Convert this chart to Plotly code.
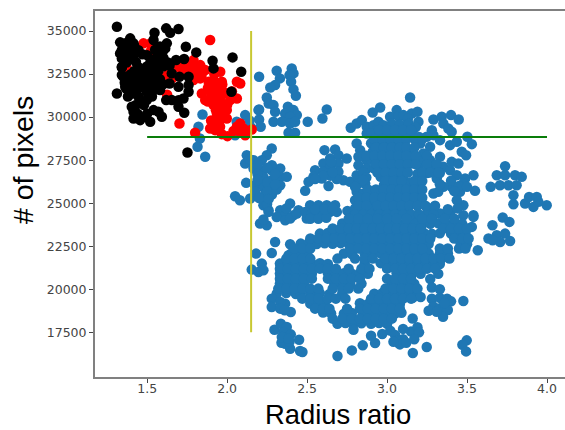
import plotly.graph_objects as go

blue_upper_left = [(2.20,32345),(2.31,32694),(2.33,32248),(2.30,31860),(2.27,31725),(2.404,32830),(2.415,32540),(2.39,32440),(2.40,32054),(2.415,31609),(2.43,31240),
(2.248,31143),(2.26,30795),(2.29,30698),(2.30,30310),(2.20,30446),(2.29,29729),(2.20,29865),(2.21,29438),(2.38,30600),(2.415,30407),(2.436,30116),(2.363,30213),(2.394,30020),(2.342,29729),(2.394,29632),(2.425,29729),(2.384,29090),(2.425,29090),(2.504,29729),(2.596,29923),(2.623,30446),(2.113,30116),(2.06,29729),(2.05,28950),(2.15,29400),(1.846,30155),(1.821,29438),(1.83,28760),(1.815,28275),(1.863,27694),(2.11,29300),(2.196,30407),(2.14,29800)]

blue_center_top = [(3.144,31143),(2.957,30562),(2.91,30271),(2.773,29380),(2.81,29632),(2.842,29826),(2.873,29438),(2.915,29535),(2.946,29729),(2.873,29050),(2.936,29244),
(3.06,30407),(3.019,30020),(3.072,30050),(3.102,30116),(3.154,30213),(3.19,30310),(3.13,29900),(3.196,29729),(2.977,29535),(3.03,29620),(3.08,29580),(3.135,29600),(3.18,29420),
(3.29,29865),(3.342,30020),(3.40,30116),(3.448,29865),(3.352,29632),(3.383,29341),(3.404,29147),(3.28,29244),(3.29,28954),(3.331,28663),(3.394,28372),(3.436,28566),(3.502,28857),(3.53,28430),(3.467,27985),(3.494,27790),(3.248,28857),(3.207,28469),(3.269,28275),(3.227,27888),(3.269,27500),(3.331,27694)]

blue_right_mid = [(3.352,27112),(3.404,27403),(3.446,27306),(3.394,26918),(3.436,26628),(3.488,26434),(3.54,26628),(3.55,25717),(3.477,26143),(3.456,25659),(3.404,25950),(3.352,25950),(3.311,26434),(3.29,25562),(3.32,25660),(3.477,24883),(3.436,25175),(3.54,24302),(3.477,24302),(3.394,24399),(3.331,24399),(3.28,24700),(3.25,26750),(3.30,26900),(3.20,27200),(3.15,27300),(3.14,28100),(3.19,26700),(3.14,26200),(3.19,26150),(3.15,25700),(3.20,25600),(3.14,25100),(3.19,24950),(3.25,24750),(3.12,24400),(3.18,24300),(3.25,24400),(3.15,27700),(3.12,28800),(3.20,28850),
(3.22,27400),(3.28,27000),(3.33,26750),(3.40,26300),(3.45,26000),(3.50,25950),(3.42,25700),(3.38,24650),(3.44,24700),(3.33,26100)]

blue_far_right = [(3.738,27151),(3.686,26628),(3.738,26628),(3.80,26628),(3.842,26531),(3.648,25950),(3.706,26047),(3.759,26047),(3.81,26047),(3.79,25465),(3.79,24942),(3.863,24980),(3.888,25368),(3.936,25368),(3.915,24786),(3.946,25078),(3.998,24883),(3.723,24167),(3.765,23915),(3.659,23721),(3.634,22946),(3.686,23140),(3.738,23236),(3.769,22810),(3.707,22752),(3.66,22850),(3.567,22267),(3.54,24205),(3.53,23624)]

blue_left_mid = [(2.279,28178),(2.248,27790),(2.123,27790),(2.113,27306),(2.165,27500),(2.217,27500),(2.165,27015),(2.217,26918),(2.279,26918),(2.332,27015),(2.227,26531),(2.279,26337),(2.332,26531),(2.373,26531),(2.119,26182),(2.175,26047),(2.227,25950),(2.279,25853),(2.332,26047),(2.238,25562),(2.28,25500),(2.05,25407),(2.08,25175),(2.144,25271),(2.175,25659),(2.227,24883),(2.259,24593),(2.332,24593),(2.394,24980),(2.446,24593),(2.363,24300),(2.31,24200),(2.415,24300),(2.25,24950),(2.37,24700),(2.206,23818),(2.248,23721),(2.227,24050),(2.363,24012),(2.394,24108),(2.436,24400),(2.498,24108),(2.259,24496),
(2.28,27200),(2.25,27050),(2.19,27250),(2.14,27550),(2.19,26700),(2.25,26200),(2.30,26700),(2.25,25700),(2.31,25800),(2.20,25300),(2.19,26350),(2.30,26100),(2.26,25250)]

blue_middle = [(2.609,28081),(2.675,28120),(2.644,27597),(2.696,27790),(2.748,27597),(2.602,27306),(2.644,27112),(2.696,27306),(2.55,26918),(2.602,26822),(2.696,26822),(2.54,26531),(2.592,26434),(2.509,26240),(2.488,25717),(2.634,26000),(2.727,26337),(2.685,26400),(2.769,26240),(2.645,26600),(2.65,27400),(2.60,26600),(2.55,26400),(2.66,26800),
(2.519,24883),(2.571,24883),(2.623,24883),(2.675,24883),(2.488,24496),(2.53,24400),(2.582,24496),(2.644,24496),(2.686,24496),(2.752,24554),(2.52,24100),(2.57,24100),(2.62,24150),(2.55,24650),(2.61,24650),(2.66,24700),
(2.81,28469),(2.832,28081),(2.821,27694),(2.873,27500),(2.821,27209),(2.873,27015),(2.81,26628),(2.863,26143),(2.82,26143),(2.81,25660),(2.852,25562),(2.90,25562),(2.957,25659),(2.80,25175),(2.852,25078),(2.80,24690),(2.852,24593),(2.915,24980),(2.977,25175),(2.85,26800),(2.87,26500),(2.85,27750),(2.85,26350),(2.80,25950)]

blue_core = [(2.90,29050),(2.95,29000),(3.00,29080),(3.05,28990),(3.10,29040),(3.16,29020),
(2.90,28480),(2.96,28500),(3.01,28440),(3.06,28490),(3.11,28470),
(2.91,27980),(2.95,28020),(3.00,27960),(3.05,28010),(3.10,27970),
(2.90,27520),(2.96,27480),(3.01,27530),(3.06,27490),(3.12,27510),
(2.92,27010),(2.97,27050),(3.02,26990),(3.07,27030),(3.11,27000),
(2.96,26530),(3.01,26570),(3.06,26510),(3.10,26550),
(2.98,26050),(3.03,26090),(3.08,26040),(3.11,26070),
(2.99,25570),(3.04,25600),(3.09,25550),
(2.93,25090),(3.02,25100),(3.07,25060),(3.11,25090),
(2.90,24600),(2.95,24620),(3.00,24580),(3.05,24610),(3.10,24590)]

blue_lower = [(2.72,23818),(2.77,23850),(2.82,23790),(2.87,23830),(2.92,23800),(2.97,23840),(3.02,23790),(3.07,23820),(3.12,23800),(3.17,23840),(3.22,23780),(3.27,23810),(3.32,23840),(3.37,23790),(3.42,23830),(3.47,23800),
(2.58,23236),(2.63,23270),(2.68,23210),(2.73,23250),(2.78,23220),(2.83,23260),(2.88,23230),(2.93,23270),(2.98,23220),(3.03,23250),(3.08,23210),(3.13,23260),(3.18,23230),(3.23,23270),(3.28,23220),(3.33,23250),(3.40,23240),(3.45,23220),(3.49,23270),
(2.46,22655),(2.51,22690),(2.56,22630),(2.61,22670),(2.66,22640),(2.71,22680),(2.76,22640),(2.81,22670),(2.86,22630),(2.91,22680),(2.96,22650),(3.01,22670),(3.06,22630),(3.11,22680),(3.16,22640),(3.21,22670),(3.26,22630),(3.46,22650),(3.50,22620),
(2.40,22074),(2.45,22100),(2.50,22050),(2.73,22080),(2.78,22050),(2.86,22100),(2.91,22060),(2.96,22090),(3.01,22050),(3.06,22100),(3.11,22070),(3.16,22090),(3.21,22050),(3.26,22080),(3.33,22070),(3.38,22100),
(2.33,21492),(2.38,21520),(2.43,21470),(2.48,21510),(2.53,21480),(2.58,21520),(2.63,21470),(2.86,21500),(2.96,21520),(3.02,21480),(3.07,21510),(3.12,21470),(3.17,21520),(3.22,21480),(3.27,21500),(3.33,21470),
(2.33,20911),(2.38,20940),(2.43,20890),(2.48,20930),(2.53,20900),(2.63,20930),(2.68,20890),(2.73,20930),(2.78,20900),(2.83,20940),(2.88,20900),(3.06,20930),(3.11,20890),(3.16,20930),(3.21,20900),(3.27,20600),(3.32,20900),
(2.33,20330),(2.38,20360),(2.43,20310),(2.48,20350),(2.67,20320),(2.73,20360),(2.77,20310),(2.84,20330),(3.03,20350),(3.08,20310),(3.13,20350),(3.17,20320),
(2.31,19748),(2.37,19780),(2.43,19730),(2.46,19770),(2.52,19740),(2.58,19780),(2.64,19730),(2.72,19770),(2.92,19740),(2.97,19780),(3.02,19730),(3.07,19770),(3.12,19740),(3.17,19780),
(2.52,19167),(2.57,19200),(2.61,19150),(2.83,19190),(2.88,19150),(2.93,19200),(2.98,19160),(3.03,19190),(3.08,19150),(3.16,19500),(3.21,19550),
(2.60,18650),(2.65,18600),(2.73,18585),(2.78,18620),(2.85,18600),(2.90,18640),(2.95,18580),(3.00,18620),(3.05,18590),(3.09,18640),
(2.69,18004),(2.74,18040),(2.79,17990),(2.84,18030),(2.90,18000),(2.95,18040),(3.00,17990)]

blue_bottom = [(3.477,19322),(3.498,17035),(3.471,16783),(3.494,16395),(3.248,16647),(3.161,16298),(2.925,16880),(2.848,16744),(2.78,16453),(2.69,16124),(2.456,16414),(2.471,16357),(2.45,17073),(2.394,16550),(2.363,16841),(2.34,16900),(2.39,16950),(2.296,17655),(2.336,18004),(2.373,17810),(2.352,17520),(2.398,17384),(2.342,17229),(2.384,17132),(2.398,18682),(2.363,19167),(2.279,19457),(2.279,18973),(2.332,19264),(2.332,18876),(2.36,18780),(2.30,22752),(2.394,22616),(2.181,22074),(2.279,22112),(2.154,21143),(2.217,21492),(2.196,21008),(2.227,21105),(2.384,21977),
(2.79,17650),(2.90,17300),(2.97,17400),(3.02,17600),(3.05,17350),(3.10,17100),(3.15,17550),(3.19,17800),(3.16,18300),(3.10,17700),(3.06,17000),(3.08,16800),(3.12,16900),(3.04,16950),(3.20,17500),(3.17,17100),
(3.28,20100),(3.33,20000),(3.28,19450),(3.33,19500),(3.375,19450),(3.40,19300),(3.29,19000),(3.33,18900),(3.38,18800),(3.35,18400),(3.26,18750),(3.31,18700),(3.36,19200)]

blue_fill_rows = [
(29250,[2.95,3.0,3.05,3.1,3.15]),
(28720,[2.92,2.97,3.02,3.07,3.12,3.17,3.22]),
(28230,[2.93,2.98,3.03,3.08,3.12,3.17]),
(27750,[2.87,2.92,2.97,3.02,3.07,3.12,3.18,3.25]),
(27260,[2.93,2.98,3.03,3.08,3.13,3.18,3.25,3.31]),
(26780,[2.94,2.99,3.04,3.09,3.13,3.22,3.27,3.32]),
(26290,[2.99,3.04,3.09,3.17,3.22]),
(25800,[2.88,2.93,2.98,3.03,3.08,3.12,3.17,3.22]),
(25320,[2.82,2.87,2.92,2.97,3.02,3.07,3.12,3.17,3.22]),
(24850,[2.82,2.87,2.94,2.99,3.04,3.09,3.14,3.19,3.24,3.30]),
(24350,[2.80,2.85,2.90,2.95,3.0,3.05,3.10,3.15,3.20,3.29]),
(24100,[2.76,2.82,2.88,2.94,3.0,3.06,3.12,3.22,3.28,3.36,3.42]),
(23527,[2.66,2.71,2.76,2.81,2.86,2.91,2.96,3.01,3.06,3.11,3.16,3.21,3.35,3.40,3.45,3.50]),
(22946,[2.52,2.57,2.62,2.67,2.72,2.77,2.82,2.87,2.92,2.97,3.02,3.07,3.12,3.17,3.22,3.27,3.42,3.47,3.51]),
(22365,[2.42,2.47,2.52,2.77,2.82,2.87,2.92,2.97,3.02,3.07,3.12,3.17,3.22,3.33,3.38,3.45,3.49]),
(21783,[2.37,2.42,2.47,2.52,2.69,2.80,2.86,2.91,2.99,3.04,3.09,3.14,3.19,3.24,3.29,3.34,3.39]),
(21200,[2.33,2.38,2.43,2.48,2.53,2.58,2.63,2.68,2.76,2.84,2.89,3.0,3.05,3.10,3.15,3.20,3.25,3.30]),
(20620,[2.33,2.38,2.43,2.48,2.53,2.63,2.68,2.73,2.78,2.83,3.0,3.05,3.10,3.15]),
(20040,[2.32,2.37,2.42,2.47,2.52,2.57,2.66,2.72,2.76,2.82,2.99,3.04,3.09,3.14,3.19]),
(19458,[2.47,2.52,2.57,2.63,2.68,2.74,2.90,2.95,3.0,3.05,3.10,3.15]),
(18876,[2.55,2.60,2.64,2.75,2.83,2.88,2.93,2.98,3.03,3.08]),
(18295,[2.66,2.72,2.78,2.83,2.88,2.93,2.98,3.03]),
]

red = [(1.477,34283),(1.52,34280),(1.52,33800),(1.37,32930),(1.644,32150),(1.61,32150),(1.702,29632),(1.80,29089),(1.894,34477),(1.625,32440),(1.625,31300),(1.66,32300),
(1.686,32930),(1.748,33120),(1.79,33310),(1.832,33020),(1.863,32730),(1.81,32540),(1.77,32730),(1.832,32250),(1.79,32150),(1.727,32730),(1.76,32400),(1.70,33200),(1.72,32500),(1.75,33000),(1.80,32900),(1.84,32400),
(1.957,32636),(1.915,32150),(1.967,32050),(2.061,32050),(2.082,31957),(1.884,32060),(1.842,31376),(1.863,30988),(1.915,31376),(1.967,31570),(2.019,30988),(2.061,31085),(1.915,30697),(1.967,30794),(1.998,30407),(1.936,30213),(1.998,29922),(1.956,29825),(1.956,29438),(1.894,29341),(1.925,29244),(1.967,29012),(2.002,28895),(2.082,29632),(2.061,29438),(2.102,29341),(2.113,28950),(2.154,29283),(1.93,31000),(1.96,31200),(1.99,31400),(1.95,30500),(1.90,31900),(1.94,31800),(1.98,30200),(2.04,29200),(2.08,29150),(1.88,31700),
(1.90,31400),(1.88,30900),(1.93,30400),(1.97,30200),(2.0,30700),(1.94,29800),(1.90,29800),(1.92,32500),(1.97,31900),(1.93,29600),(2.03,31500)]

black = [(1.311,35252),(1.619,35155),(1.644,34903),(1.696,35116),(1.546,34903),(1.54,34477),(1.394,34574),(1.331,34341),(1.363,34283),(1.415,34283),(1.623,34283),(1.613,33992),(1.742,34089),(1.807,33760),(2.034,33469),(1.909,33275),(1.915,32830),(2.088,32636),(2.027,31473),(1.752,27946),(1.311,31376),(1.342,32888),(1.331,33702),(1.681,33314),(1.731,33372),(1.759,32345),(1.759,31860),(1.759,31473),(1.702,32345),(1.654,32539),(1.696,31764),(1.727,31085),(1.696,30985),(1.732,30252),(1.696,30601),(1.654,30988),(1.619,30988),(1.581,31570),(1.64,31950),(1.592,30019),(1.571,30310),(1.54,30407),(1.519,29729),(1.456,29825),(1.415,29922),(1.404,30601),(1.415,30310),(1.488,30019),(1.498,30988),(1.456,30891),(1.508,31180),(1.404,31376),(1.446,31180),(1.363,31764),(1.352,32345),
(1.342,33895),(1.394,33930),(1.446,33880),(1.55,33910),(1.602,33880),
(1.342,33411),(1.394,33440),(1.55,33390),(1.602,33430),(1.50,33600),(1.43,33200),
(1.342,32926),(1.446,32900),(1.498,32940),(1.55,32910),(1.602,32950),(1.64,33000),
(1.342,32442),(1.394,32470),(1.446,32420),(1.498,32460),(1.55,32430),
(1.394,31957),(1.446,31990),(1.498,31940),(1.55,31980),(1.60,31900),(1.36,32000),
(1.43,31500),(1.498,31473),(1.55,31600),(1.37,31650),
(1.37,34100),(1.42,34100),(1.58,34100),(1.37,33650),(1.42,33650),(1.47,33650),(1.58,33650),
(1.37,33170),(1.52,33170),(1.58,33170),(1.63,33170),(1.42,32680),(1.47,32680),(1.52,32680),(1.57,32680),
(1.37,32200),(1.42,32200),(1.47,32200),(1.52,32200),(1.58,32200),(1.42,31720),(1.47,31720),(1.52,31720),(1.57,31720),
(1.38,31200),(1.53,31200),(1.43,30700),(1.48,30700),(1.44,30200),(1.50,30200)]

yellow_x, yellow_y = [2.15, 2.15], [17500, 35000]
green_x, green_y = [1.5, 4.0], [28840, 28840]
x_ticks = [1.5, 2.0, 2.5, 3.0, 3.5, 4.0]
x_labels = ["1.5", "2.0", "2.5", "3.0", "3.5", "4.0"]
y_ticks = [17500, 20000, 22500, 25000, 27500, 30000, 32500, 35000]
y_labels = [str(v) for v in y_ticks]

blue_fill = [(x, y) for y, xs in blue_fill_rows for x in xs]
blue = (blue_upper_left + blue_center_top + blue_right_mid + blue_far_right + blue_left_mid
        + blue_middle + blue_core + blue_lower + blue_bottom + blue_fill)


def scatter(points, color):
    return go.Scatter(x=[p[0] for p in points], y=[p[1] for p in points], mode="markers",
                      marker=dict(color=color, size=10.5, line=dict(width=0)), hoverinfo="skip")


fig = go.Figure()
fig.add_trace(scatter(blue, "#1f77b4"))
fig.add_trace(scatter(red, "#ff0000"))
fig.add_trace(scatter(black, "#000000"))
fig.add_trace(go.Scatter(x=green_x, y=green_y, mode="lines", line=dict(color="#0a7d0a", width=2)))
fig.add_trace(go.Scatter(x=yellow_x, y=yellow_y, mode="lines", line=dict(color="#c8c832", width=2)))

tick_font = dict(family="DejaVu Sans", size=12.5, color="#444444")
fig.update_layout(
    width=565, height=430, showlegend=False, paper_bgcolor="white", plot_bgcolor="white",
    margin=dict(l=95, r=0, t=11, b=53),
    xaxis=dict(range=[1.174, 4.1125], tickvals=x_ticks, ticktext=x_labels, showgrid=False, zeroline=False,
               ticks="outside", ticklen=4, tickcolor="#444444", tickfont=tick_font, ticklabelstandoff=-5,
               showline=True, linecolor="#808080", linewidth=2, mirror=True),
    yaxis=dict(range=[14907, 36163], tickvals=y_ticks, ticktext=y_labels, showgrid=False, zeroline=False,
               ticks="outside", ticklen=4, tickcolor="#444444", tickfont=tick_font,
               showline=True, linecolor="#808080", linewidth=2, mirror=False),
    annotations=[
        dict(text="Radius ratio", xref="paper", yref="paper", x=(338 - 95) / 470, y=-38 / 366,
             xanchor="center", yanchor="middle", showarrow=False,
             font=dict(family="Liberation Sans", size=27.4, color="black")),
        dict(text="# of pixels", xref="paper", yref="paper", x=-72 / 470, y=(377 - 160) / 366,
             xanchor="center", yanchor="middle", textangle=-90, showarrow=False,
             font=dict(family="Liberation Sans", size=28.5, color="black")),
    ],
)
fig.write_html("out.html", config=dict(displayModeBar=False), post_script="document.body.style.margin='0';")
